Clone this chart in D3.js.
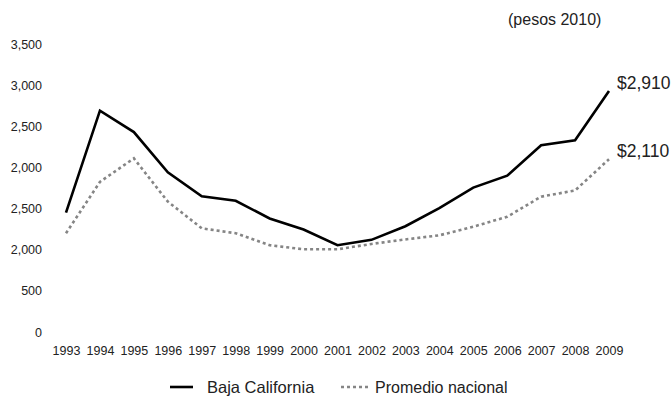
<!DOCTYPE html>
<html>
<head>
<meta charset="utf-8">
<script src="https://cdn.jsdelivr.net/npm/d3@7/dist/d3.min.js"></script>
<style>
  body { margin: 0; background: #fff; }
  text { font-family: "Liberation Sans", sans-serif; fill: #222; }
</style>
</head>
<body>
<div id="root"></div>
<script>
var years = [1993, 1994, 1995, 1996, 1997, 1998, 1999, 2000, 2001, 2002, 2003, 2004, 2005, 2006, 2007, 2008, 2009];
var baja = [1450, 2690, 2430, 1940, 1650, 1595, 1380, 1245, 1055, 1120, 1285, 1505, 1755, 1900, 2270, 2330, 2930];
var promedio = [1200, 1825, 2110, 1585, 1260, 1200, 1055, 1005, 1005, 1070, 1125, 1175, 1280, 1400, 1645, 1720, 2100];
var yTicks = [0, 500, 1000, 1500, 2000, 2500, 3000, 3500];
var yTickLabels = ['0', '500', '2,000', '2,500', '2,000', '2,500', '3,000', '3,500'];
var endLabels = ['$2,910', '$2,110'];

var w = 671, h = 404;
var svg = d3.select('#root').append('svg').attr('width', w).attr('height', h);

var x = d3.scaleLinear().domain([1993, 2009]).range([66, 609]);
var y = d3.scaleLinear().domain([0, 3500]).range([332, 44]);

// y axis labels only, no axis line
var yAxis = svg.append('g')
    .attr('transform', 'translate(42,0)')
    .call(d3.axisLeft(y).tickValues(yTicks).tickSize(0).tickPadding(0)
        .tickFormat(function (d, i) { return yTickLabels[i]; }));
yAxis.select('.domain').remove();
yAxis.selectAll('text').style('font-size', '12.5px').attr('fill', '#222');

var xAxis = svg.append('g')
    .attr('transform', 'translate(0,346)')
    .call(d3.axisBottom(x).tickValues(years).tickSize(0).tickPadding(0).tickFormat(d3.format('d')));
xAxis.select('.domain').remove();
xAxis.selectAll('text').style('font-size', '12.5px').attr('fill', '#222').attr('dy', '0.71em');

var line = d3.line()
    .x(function (d, i) { return x(years[i]); })
    .y(function (d) { return y(d); });

svg.append('path')
    .datum(promedio)
    .attr('d', line)
    .attr('fill', 'none')
    .attr('stroke', '#858585')
    .attr('stroke-width', 2.6)
    .attr('stroke-dasharray', '3,3');

svg.append('path')
    .datum(baja)
    .attr('d', line)
    .attr('fill', 'none')
    .attr('stroke', '#000')
    .attr('stroke-width', 2.6);

// end value labels
svg.selectAll('.endLabel')
    .data([baja[baja.length - 1], promedio[promedio.length - 1]])
    .enter()
    .append('text')
    .attr('class', 'endLabel')
    .attr('x', x(2009) + 8)
    .attr('y', function (d) { return y(d) - 8; })
    .attr('dy', '0.35em')
    .style('font-size', '17.5px')
    .text(function (d, i) { return endLabels[i]; });

svg.append('text')
    .attr('x', 508)
    .attr('y', 25)
    .style('font-size', '16px')
    .text('(pesos 2010)');

// legend
var legend = svg.append('g').attr('transform', 'translate(0,387)');
legend.append('line').attr('x1', 170).attr('x2', 193).attr('y1', 0).attr('y2', 0)
    .attr('stroke', '#000').attr('stroke-width', 2.6);
legend.append('text').attr('x', 207).attr('y', 0).attr('dy', '0.35em')
    .style('font-size', '16.5px').text('Baja California');
legend.append('line').attr('x1', 341).attr('x2', 368).attr('y1', 0).attr('y2', 0)
    .attr('stroke', '#858585').attr('stroke-width', 2.6).attr('stroke-dasharray', '3,3');
legend.append('text').attr('x', 375).attr('y', 0).attr('dy', '0.35em')
    .style('font-size', '16px').text('Promedio nacional');
</script>
</body>
</html>
